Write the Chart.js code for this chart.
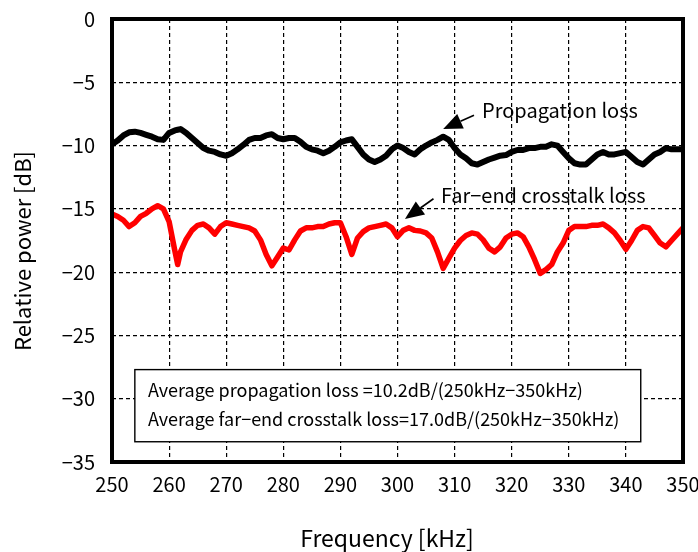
<!DOCTYPE html>
<html>
<head>
<meta charset="utf-8">
<script src="https://cdn.jsdelivr.net/npm/chart.js@4/dist/chart.umd.min.js"></script>
<style>
html,body{margin:0;padding:0;background:#fff;}
#wrap{width:698px;height:552px;position:relative;}
</style>
</head>
<body>
<div id="wrap"><canvas id="c" width="698" height="552"></canvas></div>
<script>
const FONT = '"Noto Sans CJK JP", "Noto Sans", sans-serif';

const frequency = [250,251,252,253,254,255,256,257,258,259,260,261,261.5,262,263,264,265,266,267,268,269,
  270,271,272,273,274,275,276,277,278,279,280,281,282,283,284,285,286,287,288,289,
  290,291,292,293,294,295,296,297,298,299,300,301,302,303,304,305,306,307,308,309,
  310,311,312,313,314,315,316,317,318,319,320,321,322,323,324,325,326,327,328,329,
  330,331,332,333,334,335,336,337,338,339,340,341,342,343,344,345,346,347,348,349,350];

const propagationLoss = [-9.9,-9.6,-9.2,-8.95,-8.9,-9.0,-9.15,-9.3,-9.5,-9.55,-9.0,-8.8,-8.75,-8.7,-9.0,-9.4,-9.8,-10.2,-10.4,-10.5,-10.7,
  -10.8,-10.6,-10.3,-9.95,-9.55,-9.4,-9.4,-9.2,-9.1,-9.4,-9.5,-9.4,-9.4,-9.7,-10.1,-10.3,-10.4,-10.6,-10.4,-10.1,
  -9.75,-9.6,-9.5,-10.1,-10.7,-11.1,-11.3,-11.1,-10.8,-10.3,-10.0,-10.2,-10.5,-10.7,-10.3,-10.0,-9.75,-9.55,-9.3,-9.55,
  -10.2,-10.7,-11.0,-11.4,-11.5,-11.3,-11.1,-10.95,-10.8,-10.75,-10.5,-10.35,-10.35,-10.2,-10.2,-10.1,-10.1,-9.9,-10.0,-10.5,
  -11.0,-11.4,-11.5,-11.5,-11.1,-10.7,-10.5,-10.7,-10.7,-10.6,-10.5,-10.9,-11.3,-11.5,-11.1,-10.7,-10.5,-10.2,-10.3,-10.3,-10.3];

const crosstalkLoss = [-15.4,-15.6,-15.9,-16.4,-16.1,-15.6,-15.35,-15.0,-14.75,-15.0,-16.0,-18.3,-19.4,-18.4,-17.4,-16.7,-16.3,-16.2,-16.5,-17.0,-16.4,
  -16.1,-16.2,-16.3,-16.4,-16.5,-16.75,-17.45,-18.6,-19.5,-18.8,-18.1,-18.25,-17.45,-16.75,-16.5,-16.5,-16.4,-16.4,-16.2,-16.1,
  -16.1,-17.2,-18.6,-17.3,-16.8,-16.5,-16.4,-16.3,-16.2,-16.5,-17.2,-16.7,-16.5,-16.7,-16.75,-16.9,-17.3,-18.4,-19.7,-18.9,
  -18.1,-17.5,-17.1,-16.9,-17.0,-17.45,-18.1,-18.4,-18.0,-17.3,-17.0,-16.9,-17.2,-18.0,-19.0,-20.1,-19.8,-19.4,-18.4,-17.7,
  -16.7,-16.4,-16.4,-16.4,-16.3,-16.3,-16.2,-16.5,-16.9,-17.5,-18.2,-17.5,-16.7,-16.4,-16.5,-17.1,-17.7,-18.0,-17.5,-17.0,-16.5];

const xTitle = 'Frequency [kHz]';
const yTitle = 'Relative power [dB]';
const seriesLabels = ['Propagation loss', 'Far\u2212end crosstalk loss'];
const summaryLines = [
  'Average propagation loss =10.2dB/(250kHz\u2212350kHz)',
  'Average far\u2212end crosstalk loss=17.0dB/(250kHz\u2212350kHz)'
];

function pts(ys){ return frequency.map((f,i)=>({x:f,y:ys[i]})); }

function arrow(ctx, x0, y0, x1, y1){
  const ang = Math.atan2(y1-y0, x1-x0);
  const hl = 19, hw = 8;
  const bx = x1 - hl*Math.cos(ang), by = y1 - hl*Math.sin(ang);
  ctx.beginPath();
  ctx.moveTo(x0,y0); ctx.lineTo(bx,by);
  ctx.lineWidth = 1.6; ctx.strokeStyle = '#000'; ctx.stroke();
  ctx.beginPath();
  ctx.moveTo(x1,y1);
  ctx.lineTo(bx + hw*Math.sin(ang), by - hw*Math.cos(ang));
  ctx.lineTo(bx - hw*Math.sin(ang), by + hw*Math.cos(ang));
  ctx.closePath(); ctx.fillStyle = '#000'; ctx.fill();
}

const decor = {
  id: 'decor',
  afterDatasetsDraw(chart){
    const {ctx, chartArea:a, scales:{x, y}} = chart;
    ctx.save();
    ctx.setLineDash([]);
    // summary box
    const bx0 = x.getPixelForValue(254.0), bx1 = x.getPixelForValue(342.6);
    const by0 = y.getPixelForValue(-27.7), by1 = y.getPixelForValue(-33.4);
    ctx.fillStyle = '#fff';
    ctx.fillRect(bx0, by0, bx1-bx0, by1-by0);
    ctx.lineWidth = 1.4; ctx.strokeStyle = '#000';
    ctx.strokeRect(bx0, by0, bx1-bx0, by1-by0);
    ctx.fillStyle = '#000';
    ctx.font = '18px ' + FONT;
    ctx.textBaseline = 'alphabetic'; ctx.textAlign = 'left';
    ctx.fillText(summaryLines[0], x.getPixelForValue(256.3), y.getPixelForValue(-29.86));
    ctx.fillText(summaryLines[1], x.getPixelForValue(256.3), y.getPixelForValue(-32.19));
    // annotations
    ctx.font = '20px ' + FONT;
    ctx.fillText(seriesLabels[0], x.getPixelForValue(314.8), y.getPixelForValue(-7.82));
    ctx.fillText(seriesLabels[1], x.getPixelForValue(307.6), y.getPixelForValue(-14.51));
    arrow(ctx, x.getPixelForValue(313.4), y.getPixelForValue(-7.6), x.getPixelForValue(308.0), y.getPixelForValue(-8.7));
    arrow(ctx, x.getPixelForValue(306.3), y.getPixelForValue(-14.2), x.getPixelForValue(301.3), y.getPixelForValue(-15.8));
    // frame
    ctx.lineWidth = 4; ctx.strokeStyle = '#000';
    ctx.strokeRect(a.left, a.top, a.right-a.left, a.bottom-a.top);
    // axis titles
    ctx.fillStyle = '#000';
    ctx.textAlign = 'center'; ctx.textBaseline = 'alphabetic';
    ctx.font = '23px ' + FONT;
    ctx.fillText(xTitle, 387, 547);
    ctx.font = '22px ' + FONT;
    ctx.textBaseline = 'middle';
    ctx.translate(23, 251);
    ctx.rotate(-Math.PI/2);
    ctx.fillText(yTitle, 0, 0);
    ctx.restore();
  }
};

new Chart(document.getElementById('c'), {
  type: 'line',
  data: {
    datasets: [
      {label: seriesLabels[0], data: pts(propagationLoss), borderColor: '#000', backgroundColor:'#000', borderWidth: 6, pointRadius: 0, tension: 0, borderJoinStyle:'round', borderCapStyle:'round'},
      {label: seriesLabels[1], data: pts(crosstalkLoss), borderColor: '#ff0000', backgroundColor:'#ff0000', borderWidth: 5.5, pointRadius: 0, tension: 0, borderJoinStyle:'round', borderCapStyle:'round'}
    ]
  },
  options: {
    responsive: false,
    animation: false,
    layout: {padding: {left: 0, right: 15, top: 19, bottom: 0}},
    plugins: {legend: {display: false}, tooltip: {enabled: false}},
    scales: {
      x: {
        type: 'linear', min: 250, max: 350,
        ticks: {stepSize: 10, padding: 10, color: '#000', font: {size: 20, family: FONT}},
        grid: {color: '#000', lineWidth: 1.2, drawTicks: false},
        border: {display: false, dash: [4, 3]},
        afterFit(s){ s.height = 90; s.paddingLeft = 0; s.paddingRight = 0; }
      },
      y: {
        min: -35, max: 0,
        ticks: {stepSize: 5, padding: 17, color: '#000', font: {size: 20, family: FONT},
          callback: v => v < 0 ? '\u2212' + Math.abs(v) : String(v)},
        grid: {color: '#000', lineWidth: 1.2, drawTicks: false},
        border: {display: false, dash: [4, 3]},
        afterFit(s){ s.width = 112; s.paddingTop = 0; s.paddingBottom = 0; }
      }
    }
  },
  plugins: [decor]
});
</script>
</body>
</html>
